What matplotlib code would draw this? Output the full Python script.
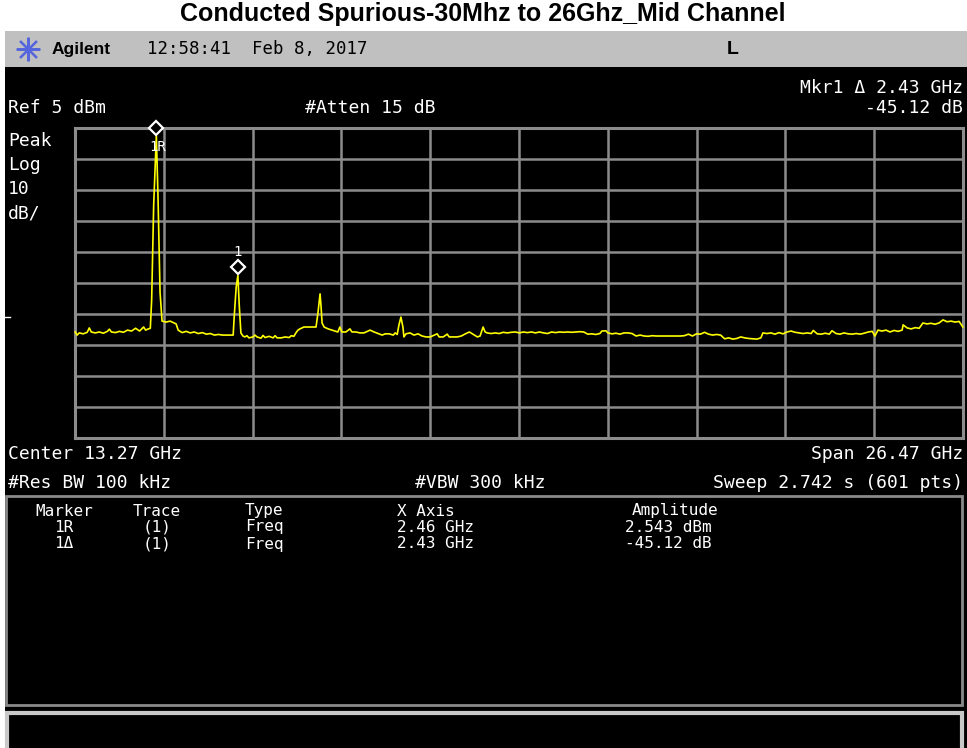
import matplotlib
matplotlib.use("Agg")
import matplotlib.pyplot as plt
from matplotlib.patches import Rectangle
import matplotlib.transforms as mtransforms

# trace (GHz, dBm)
freq_ghz = [0.04, 0.10, 0.16, 0.28, 0.40, 0.46, 0.52, 0.64, 0.76, 0.88, 1.00, 1.06, 1.12, 1.24, 1.36, 1.48,
            1.60, 1.72, 1.84, 1.96, 2.08, 2.14, 2.20, 2.28, 2.32, 2.38, 2.46, 2.51, 2.57, 2.63, 2.75, 2.87,
            2.99, 3.05, 3.11, 3.23, 3.35, 3.47, 3.59, 3.71, 3.83, 3.95, 4.07, 4.19, 4.31, 4.43, 4.55, 4.67,
            4.75, 4.78, 4.84, 4.89, 4.93, 4.98, 5.04, 5.10, 5.16, 5.22, 5.34, 5.40, 5.46, 5.58, 5.64, 5.70,
            5.82, 5.94, 6.00, 6.06, 6.18, 6.30, 6.42, 6.48, 6.56, 6.62, 6.68, 6.74, 6.86, 6.98, 7.10, 7.22,
            7.28, 7.34, 7.37, 7.40, 7.46, 7.58, 7.70, 7.79, 7.87, 7.93, 7.99, 8.11, 8.23, 8.29, 8.41, 8.53,
            8.65, 8.77, 8.83, 8.95, 9.07, 9.19, 9.28, 9.40, 9.52, 9.58, 9.64, 9.69, 9.75, 9.81, 9.84, 9.90,
            10.02, 10.14, 10.26, 10.38, 10.50, 10.62, 10.83, 10.89, 11.01, 11.13, 11.19, 11.31, 11.43, 11.55,
            11.67, 11.79, 11.91, 12.03, 12.11, 12.20, 12.26, 12.32, 12.44, 12.56, 12.68, 12.80, 12.92, 13.04,
            13.16, 13.28, 13.40, 13.52, 13.64, 13.76, 13.88, 14.00, 14.12, 14.24, 14.36, 14.48, 14.60, 14.72,
            14.84, 14.96, 15.08, 15.20, 15.32, 15.44, 15.56, 15.68, 15.74, 15.86, 15.92, 16.04, 16.16, 16.28,
            16.40, 16.52, 16.64, 16.76, 16.88, 17.00, 17.12, 17.24, 17.36, 17.48, 17.60, 17.72, 17.84, 17.96,
            18.08, 18.20, 18.32, 18.44, 18.56, 18.68, 18.80, 18.92, 19.04, 19.16, 19.28, 19.40, 19.52, 19.64,
            19.76, 19.88, 20.00, 20.12, 20.24, 20.36, 20.48, 20.54, 20.66, 20.78, 20.90, 21.02, 21.14, 21.26,
            21.38, 21.50, 21.62, 21.74, 21.86, 21.98, 22.04, 22.16, 22.28, 22.40, 22.52, 22.60, 22.72, 22.84,
            22.96, 23.08, 23.20, 23.32, 23.44, 23.56, 23.68, 23.80, 23.88, 23.97, 24.09, 24.21, 24.33, 24.45,
            24.57, 24.69, 24.72, 24.84, 24.96, 25.08, 25.20, 25.31, 25.43, 25.55, 25.67, 25.79, 25.91, 26.03,
            26.15, 26.27, 26.39, 26.50]
level_dbm = [-60.8, -61.8, -61.1, -61.4, -60.9, -59.5, -60.8, -61.1, -60.8, -61.2, -60.6, -59.9, -60.8, -61.0, -60.6, -60.9,
             -60.2, -60.5, -59.6, -60.5, -59.2, -60.2, -59.9, -59.6, -50.5, -20.0, 2.54, -17.6, -48.0, -57.3, -57.6, -57.3,
             -57.9, -58.2, -60.2, -61.0, -60.6, -61.1, -60.8, -61.3, -61.0, -61.5, -61.3, -61.8, -61.6, -61.8, -61.8, -61.8,
             -61.8, -56.0, -46.3, -42.58, -52.0, -61.1, -62.1, -62.4, -62.0, -62.7, -62.4, -61.8, -62.4, -62.8, -61.9, -62.6,
             -62.2, -62.7, -62.0, -62.7, -62.7, -62.4, -62.6, -62.0, -62.2, -61.1, -60.2, -59.8, -59.2, -59.2, -59.2, -59.2,
             -54.4, -48.5, -52.7, -57.9, -59.2, -59.8, -60.2, -60.5, -60.8, -59.2, -60.8, -60.8, -59.8, -60.8, -60.8, -61.1,
             -61.1, -60.5, -60.2, -60.8, -61.3, -61.8, -61.4, -61.4, -61.8, -61.1, -61.6, -58.6, -56.0, -59.2, -62.4, -61.4,
             -61.1, -61.8, -61.4, -62.1, -62.4, -62.4, -61.4, -62.4, -62.4, -61.5, -62.4, -62.4, -62.4, -62.1,
             -61.4, -60.8, -61.6, -62.4, -62.1, -59.2, -60.8, -61.1, -61.3, -61.1, -61.3, -60.9, -61.1, -60.9,
             -60.8, -61.1, -60.8, -61.0, -60.8, -61.1, -60.8, -61.1, -61.3, -60.8, -61.0, -60.8, -60.9, -60.8,
             -60.9, -60.8, -60.7, -60.8, -61.5, -61.4, -61.6, -61.3, -60.5, -60.4, -61.1, -61.4, -61.2, -61.5,
             -61.1, -61.1, -61.3, -62.1, -61.8, -62.1, -62.2, -62.0, -62.1, -62.1, -62.1, -62.1, -62.1, -62.1,
             -62.1, -62.0, -61.5, -62.1, -61.4, -61.5, -60.9, -61.5, -61.8, -61.6, -61.8, -63.0, -62.7, -63.1,
             -62.9, -62.4, -62.7, -62.9, -63.0, -63.1, -62.7, -61.1, -61.3, -61.1, -61.5, -61.0, -61.4, -60.8,
             -60.5, -60.9, -61.1, -61.3, -61.1, -61.3, -60.3, -61.4, -61.5, -61.2, -61.5, -60.4, -61.3, -61.5,
             -61.1, -61.4, -61.5, -61.3, -61.5, -61.2, -60.8, -60.6, -62.1, -60.2, -60.5, -60.2, -60.8, -60.3,
             -60.6, -60.2, -58.5, -59.5, -59.8, -59.4, -59.6, -57.9, -58.2, -58.0, -58.3, -57.9, -56.9, -57.5,
             -57.3, -57.6, -57.4, -59.2]

marker_freq = [2.46, 4.89]
marker_level = [2.543, -42.58]
marker_names = ["1R", "1"]

center_ghz = 13.27
span_ghz = 26.47
ref_dbm = 5
db_per_div = 10

table_header = ["Marker", "Trace", "Type", "X Axis", "Amplitude"]
table_rows = [["1R", "(1)", "Freq", "2.46 GHz", "2.543 dBm"],
              ["1\u0394", "(1)", "Freq", "2.43 GHz", "-45.12 dB"]]

W, H = 967, 748
MONO = ["DejaVu Sans Mono"]
fig = plt.figure(figsize=(W / 100, H / 100), dpi=100, facecolor="white")

# full-figure overlay in pixel units for the screen furniture
bg = fig.add_axes([0, 0, 1, 1])
bg.set_xlim(0, W)
bg.set_ylim(H, 0)
bg.axis("off")

bg.text(W / 2 - 1, 14, "Conducted Spurious-30Mhz to 26Ghz_Mid Channel", ha="center", va="center",
        fontsize=18, fontweight="bold", family="Liberation Sans")
bg.add_patch(Rectangle((5, 31), W - 5, 36, facecolor="#c0c0c0", edgecolor="none"))
bg.add_patch(Rectangle((5, 67), W - 5, H - 67, facecolor="black", edgecolor="none"))
bg.plot(28, 49, marker=(8, 2, 0), ms=17, color="#5566dd", mew=1.6)
bg.text(52, 49, "Agilent", ha="left", va="center", fontsize=12.5, fontweight="bold", family="Liberation Sans")
bg.text(147, 49, "12:58:41  Feb 8, 2017", ha="left", va="center", fontsize=12.5, family=MONO)
bg.text(727, 49, "L", ha="left", va="center", fontsize=14, fontweight="bold", family="Liberation Sans")

wtxt = dict(color="white", va="center", fontsize=13, family=MONO)
bg.text(963, 88, "Mkr1 \u0394 2.43 GHz", ha="right", **wtxt)
bg.text(8, 108, "Ref 5 dBm", ha="left", **wtxt)
bg.text(305, 108, "#Atten 15 dB", ha="left", **wtxt)
bg.text(963, 108, "-45.12 dB", ha="right", **wtxt)
for yy, s in zip([141, 165, 189, 213], ["Peak", "Log", "10", "dB/"]):
    bg.text(8, yy, s, ha="left", **wtxt)
bg.text(8, 454, "Center 13.27 GHz", ha="left", **wtxt)
bg.text(963, 454, "Span 26.47 GHz", ha="right", **wtxt)
bg.text(8, 483, "#Res BW 100 kHz", ha="left", **wtxt)
bg.text(415, 483, "#VBW 300 kHz", ha="left", **wtxt)
bg.text(963, 483, "Sweep 2.742 s (601 pts)", ha="right", **wtxt)

# marker table box
bg.add_patch(Rectangle((6, 496), 956, 209, facecolor="black", edgecolor="#8a8a8a", lw=2))
col_x = [64, 157, 245, 397, 625]
col_ha = ["center", "center", "left", "left", "left"]
ttxt = dict(color="white", va="center", fontsize=11.5, family=MONO)
for x, ha, s in zip(col_x, col_ha, table_header):
    bg.text(x if s != "Amplitude" else 632, 511, s, ha=ha, **ttxt)
for yy, row in zip([527, 544], table_rows):
    for x, ha, s in zip(col_x, col_ha, row):
        bg.text(x, yy, s, ha=ha, **ttxt)

# bottom status box
bg.add_patch(Rectangle((7, 713), 955, 40, facecolor="black", edgecolor="#c8c8c8", lw=3))
bg.plot([5, 10], [317, 317], color="white", lw=1)

# graticule
x0, x1, y0, y1 = 75, 963, 128, 438
ax = fig.add_axes([x0 / W, 1 - y1 / H, (x1 - x0) / W, (y1 - y0) / H])
ax.set_facecolor("black")
fstart = center_ghz - span_ghz / 2
fstop = center_ghz + span_ghz / 2
ax.set_xlim(fstart, fstop)
ax.set_ylim(ref_dbm - 10 * db_per_div, ref_dbm)
ax.set_xticks([fstart + i * span_ghz / 10 for i in range(11)])
ax.set_yticks([ref_dbm - i * db_per_div for i in range(11)])
ax.tick_params(length=0, labelbottom=False, labelleft=False)
ax.grid(True, color="#8c8c8c", lw=1.8)
for sp in ax.spines.values():
    sp.set_color("#8c8c8c")
    sp.set_linewidth(2.2)

ax.plot(freq_ghz, level_dbm, color="#ffff00", lw=1.2, clip_on=False, zorder=3)

up = mtransforms.offset_copy(ax.transData, fig=fig, x=0, y=8 * 0.72, units="points")
ax.plot(marker_freq, marker_level, "D", ms=7, mfc="black", mec="white", mew=1.6,
        transform=up, clip_on=False, zorder=4)
ax.text(marker_freq[0], marker_level[0], marker_names[0], transform=mtransforms.offset_copy(
    ax.transData, fig=fig, x=1, y=-11 * 0.72, units="points"), color="white", fontsize=10,
    ha="center", va="center", family=MONO, zorder=5)
ax.text(marker_freq[1], marker_level[1], marker_names[1], transform=mtransforms.offset_copy(
    ax.transData, fig=fig, x=0, y=23 * 0.72, units="points"), color="white", fontsize=10,
    ha="center", va="center", family=MONO, zorder=5)

fig.savefig("out.png", dpi=100, facecolor="white")
